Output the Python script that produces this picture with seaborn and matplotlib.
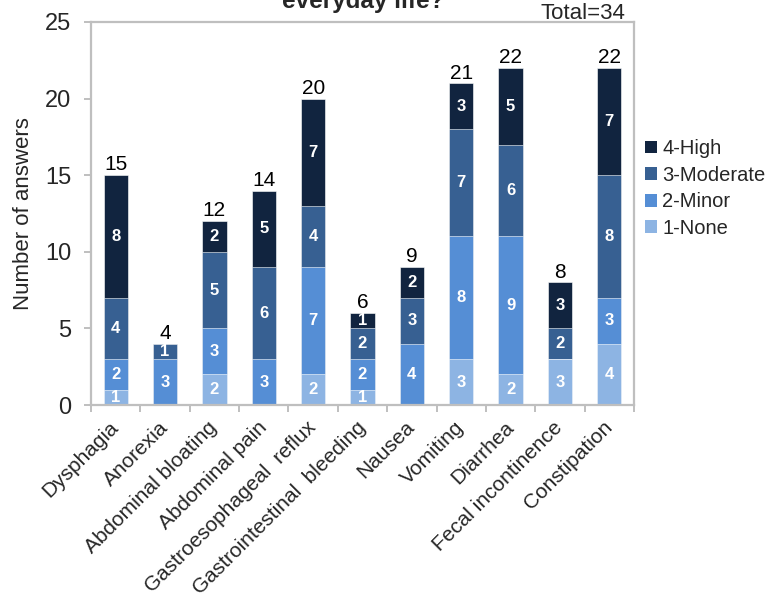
import matplotlib
matplotlib.use("Agg")
import matplotlib.pyplot as plt
from matplotlib.patches import Patch
from matplotlib.ticker import FixedLocator, MultipleLocator
import numpy as np
import pandas as pd
import seaborn as sns

# Symptom categories and answer counts per severity level
symptoms = ["Dysphagia", "Anorexia", "Abdominal bloating", "Abdominal pain",
            "Gastroesophageal  reflux", "Gastrointestinal  bleeding", "Nausea",
            "Vomiting", "Diarrhea", "Fecal incontinence", "Constipation"]
none_1 = [1, 0, 2, 0, 2, 1, 0, 3, 2, 3, 4]
minor_2 = [2, 3, 3, 3, 7, 2, 4, 8, 9, 0, 3]
moderate_3 = [4, 1, 5, 6, 4, 2, 3, 7, 6, 2, 8]
high_4 = [8, 0, 2, 5, 7, 1, 2, 3, 5, 3, 7]

levels = ["1-None", "2-Minor", "3-Moderate", "4-High"]
level_values = [none_1, minor_2, moderate_3, high_4]
colors = ["#8db4e3", "#558ed5", "#376092", "#11243f"]

title_text = "everyday life?"
total_text = "Total=34"
y_label = "Number of answers"

sns.set_theme(style="white")
plt.rcParams["font.family"] = ["Liberation Sans", "DejaVu Sans"]

# Long-format table with cumulative heights for the stacked layers
counts = np.array(level_values)
cum = np.cumsum(counts, axis=0)
rows = []
for li, lev in enumerate(levels):
    for si, s in enumerate(symptoms):
        rows.append({"Symptom": s, "Level": lev, "Count": counts[li, si],
                     "Top": cum[li, si], "Bottom": cum[li, si] - counts[li, si]})
df = pd.DataFrame(rows)

fig = plt.figure(figsize=(7.72, 5.98), dpi=100)
ax = fig.add_axes([91 / 772, 1 - 405 / 598, (634 - 91) / 772, (405 - 22) / 598])

# Draw from the tallest cumulative layer down so each lower layer covers the previous
for li in range(len(levels) - 1, -1, -1):
    sub = df[df["Level"] == levels[li]]
    sns.barplot(data=sub, x="Symptom", y="Top", order=symptoms, color=colors[li],
                width=0.49, saturation=1, edgecolor="white", linewidth=0.4, ax=ax)

# Segment value labels
for _, r in df.iterrows():
    if r["Count"] > 0:
        xi = symptoms.index(r["Symptom"])
        ax.text(xi, r["Bottom"] + r["Count"] / 2, str(r["Count"]), color="white",
                fontsize=12, fontweight="bold", ha="center", va="center")

# Totals above bars
totals = cum[-1]
for xi, t in enumerate(totals):
    ax.text(xi, t + 0.05, str(t), fontsize=15, ha="center", va="bottom", color="black")

ax.set_xlim(-0.5, len(symptoms) - 0.5)
ax.set_ylim(0, 25)
ax.yaxis.set_major_locator(MultipleLocator(5))
ax.set_xlabel("")
ax.set_ylabel(y_label, fontsize=16, labelpad=8)

spine_color = "#bfbfbf"
for sp in ax.spines.values():
    sp.set_visible(True)
    sp.set_color(spine_color)
    sp.set_linewidth(1.6)

ax.tick_params(axis="y", which="major", direction="out", length=5, width=1.4,
               color=spine_color, labelsize=17, pad=9, left=True)
ax.set_xticks(range(len(symptoms)))
ax.set_xticklabels(symptoms, rotation=45, ha="right", va="center",
                   rotation_mode="anchor", fontsize=15)
ax.tick_params(axis="x", which="major", length=0, pad=14, bottom=True)
ax.xaxis.set_minor_locator(FixedLocator(np.arange(-0.5, len(symptoms), 1.0)))
ax.tick_params(axis="x", which="minor", direction="out", length=5, width=1.4,
               color=spine_color, bottom=True)

# Legend
handles = [Patch(facecolor=colors[i], edgecolor="none", label=levels[i])
           for i in range(len(levels) - 1, -1, -1)]
fig.legend(handles=handles, loc="upper left", bbox_to_anchor=(645 / 772, 1 - 139 / 598),
           frameon=False, fontsize=14.5, handlelength=0.6, handleheight=0.6,
           handletextpad=0.25, labelspacing=0.38, borderpad=0.0, borderaxespad=0.0)

fig.text(363 / 772, 1 - 8 / 598, title_text, fontsize=17.5, fontweight="bold",
         ha="center", va="baseline")
fig.text(625 / 772, 1 - 19 / 598, total_text, fontsize=16, ha="right", va="baseline")

fig.savefig("out.png", dpi=100)
